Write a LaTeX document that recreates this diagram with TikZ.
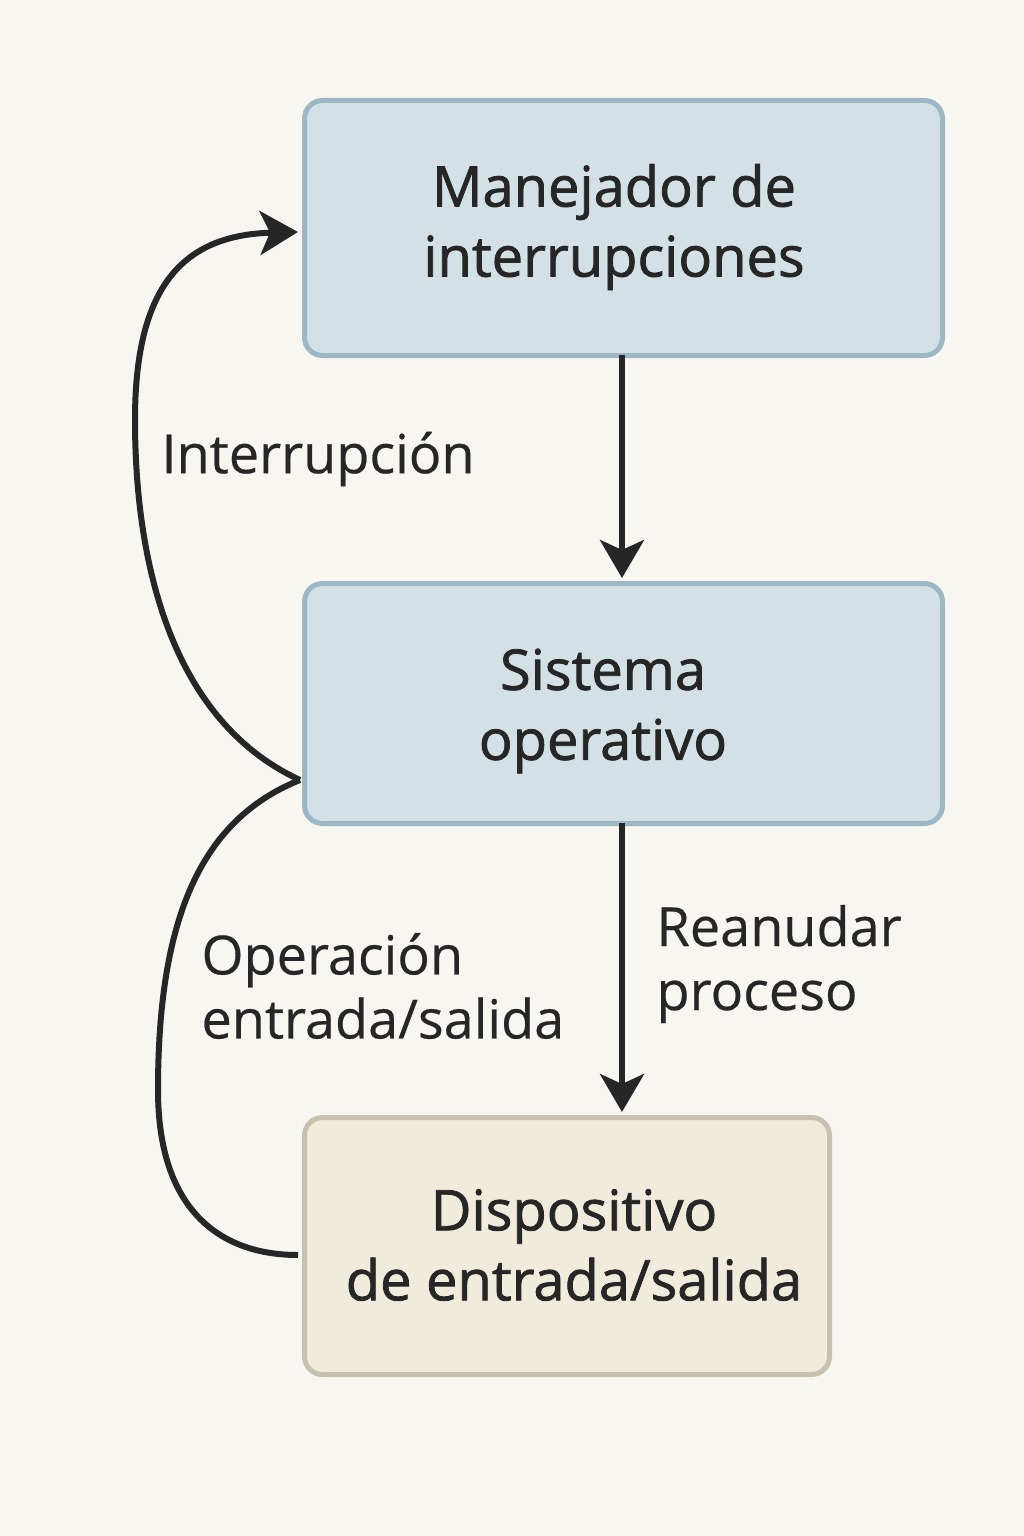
\documentclass[tikz,border=0pt]{standalone}
\usepackage{fontspec}
\setmainfont{Open Sans}
\newfontfamily\boxfont[FakeBold=1.4]{Open Sans}
\newfontfamily\lblfont[FakeBold=0.4]{Open Sans}
\usetikzlibrary{arrows.meta}
\definecolor{bg}{HTML}{F8F6F1}
\definecolor{bluefill}{HTML}{D3E0E6}
\definecolor{blueedge}{HTML}{9DB8C4}
\definecolor{tanfill}{HTML}{F1EBDC}
\definecolor{tanedge}{HTML}{C7C1AE}
\definecolor{ink}{HTML}{262626}
\tikzset{
  boxblue/.style={draw=blueedge, fill=bluefill, line width=5pt, rounded corners=18pt},
  boxtan/.style={draw=tanedge, fill=tanfill, line width=5pt, rounded corners=18pt},
  boxtext/.style={font=\boxfont\fontsize{56}{70}\selectfont, text=ink, align=center},
  lbl/.style={font=\lblfont\fontsize{54}{64}\selectfont, text=ink, align=left, anchor=west},
  conn/.style={draw=ink, line width=6pt},
  tip/.style={-{Stealth[length=38pt,width=44pt,inset=10pt]}}
}
\begin{document}
\begin{tikzpicture}[x=1pt,y=-1pt]
\fill[bg] (0,0) rectangle (1024,1536);
\useasboundingbox (0,0) rectangle (1024,1536);
\node[boxblue, minimum width=638pt, minimum height=255pt, anchor=north west] (top) at (302,98) {};
\node[boxblue, minimum width=638pt, minimum height=240pt, anchor=north west] (mid) at (302,581) {};
\node[boxtan, minimum width=525pt, minimum height=257pt, anchor=north west] (bot) at (302,1115) {};
\node[boxtext] (toptxt) at (614,227) {Manejador de\\interrupciones};
\node[boxtext] (midtxt) at (603,711) {Sistema\\operativo};
\node[boxtext] (bottxt) at (574,1245) {Dispositivo\\de entrada/salida};
\node[lbl] (l1) at (158,459) {Interrupción};
\node[lbl] (l2) at (198,986) {Operación\\entrada/salida};
\node[lbl] (l3) at (653,964) {Reanudar\\proceso};
\coordinate (j) at (300,780);
\coordinate (topin) at (298,232);
\coordinate (botin) at (298,1255);
\coordinate (a1) at (622,355);
\coordinate (a2) at (622,578);
\coordinate (b1) at (622,823);
\coordinate (b2) at (622,1112);
\draw[conn, tip] (a1) -- (a2);
\draw[conn, tip] (b1) -- (b2);
\draw[conn, tip] (j) .. controls (170,720) and (135,560) .. (135,420) .. controls (135,290) and (180,235) .. (topin);
\draw[conn] (j) .. controls (200,820) and (158,920) .. (158,1090) .. controls (158,1210) and (220,1255) .. (botin);
\end{tikzpicture}
\end{document}
